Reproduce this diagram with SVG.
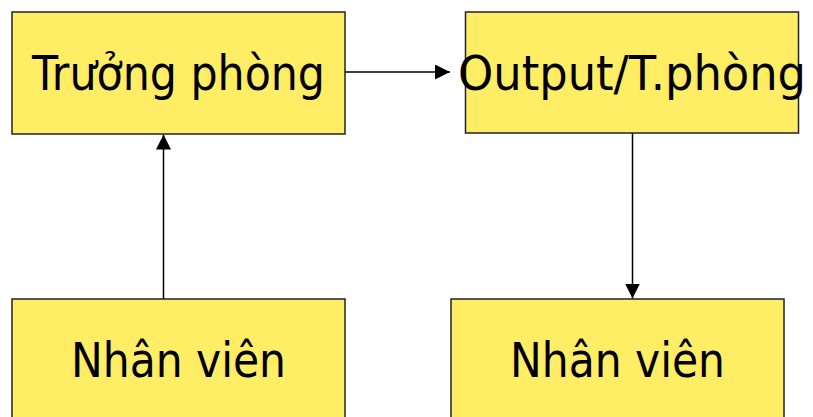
<svg xmlns="http://www.w3.org/2000/svg" width="813" height="417" viewBox="0 0 813 417">
<style>
.box{fill:#FFED66;stroke:#222;stroke-width:1.5}
.lbl{font-family:"Comic Sans MS","DejaVu Sans",sans-serif;font-size:48px;fill:#000;text-anchor:middle}
.conn{stroke:#000;stroke-width:1.5;fill:none}
</style>
<defs>
<marker id="ah2" viewBox="0 0 10 10" refX="10" refY="5" markerWidth="15" markerHeight="15" markerUnits="userSpaceOnUse" orient="auto">
<path d="M0,0 L10,5 L0,10 z" fill="#000"/>
</marker>
</defs>
<g id="connectors">
<line class="conn" x1="163.5" y1="299" x2="163.5" y2="134.5" marker-end="url(#ah2)"/>
<line class="conn" x1="345" y1="72" x2="450" y2="72" marker-end="url(#ah2)"/>
<line class="conn" x1="632.5" y1="133" x2="632.5" y2="298.5" marker-end="url(#ah2)"/>
</g>
<g id="truong-phong">
<rect class="box" x="12" y="12" width="333" height="122"/>
<text class="lbl" x="178.5" y="90" textLength="293" lengthAdjust="spacingAndGlyphs">Trưởng phòng</text>
</g>
<g id="output-tphong">
<rect class="box" x="465.5" y="12" width="333" height="121"/>
<text class="lbl" x="632" y="90" textLength="348" lengthAdjust="spacingAndGlyphs">Output/T.phòng</text>
</g>
<g id="nhan-vien-1">
<rect class="box" x="12" y="299" width="333" height="130"/>
<text class="lbl" x="178.5" y="377" textLength="215" lengthAdjust="spacingAndGlyphs">Nhân viên</text>
</g>
<g id="nhan-vien-2">
<rect class="box" x="451" y="299" width="333" height="130"/>
<text class="lbl" x="617.5" y="377" textLength="215" lengthAdjust="spacingAndGlyphs">Nhân viên</text>
</g>
</svg>
